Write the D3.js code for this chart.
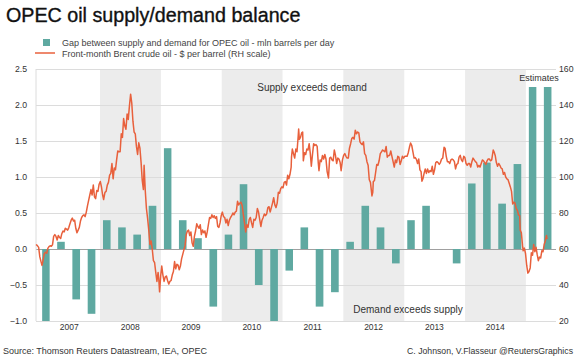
<!DOCTYPE html>
<html>
<head>
<meta charset="utf-8">
<script src="https://cdn.jsdelivr.net/npm/d3@7"></script>
<style>
  body { margin: 0; background: #fff; }
  svg text { font-family: "Liberation Sans", Arial, sans-serif; }
</style>
</head>
<body>
<script>
// quarterly gap between supply and demand for OPEC oil, mln b/d (2007 Q1 .. 2015 Q2)
const quarters = ['2007-01-01','2007-04-01','2007-07-01','2007-10-01',
  '2008-01-01','2008-04-01','2008-07-01','2008-10-01',
  '2009-01-01','2009-04-01','2009-07-01','2009-10-01',
  '2010-01-01','2010-04-01','2010-07-01','2010-10-01',
  '2011-01-01','2011-04-01','2011-07-01','2011-10-01',
  '2012-01-01','2012-04-01','2012-07-01','2012-10-01',
  '2013-01-01','2013-04-01','2013-07-01','2013-10-01',
  '2014-01-01','2014-04-01','2014-07-01','2014-10-01',
  '2015-01-01','2015-04-01']
const gap = [-1.0, 0.1, -0.7, -0.9,
  0.4, 0.3, 0.2, 0.6,
  1.4, 0.4, 0.15, -0.8,
  0.2, 0.9, -0.5, -1.0,
  -0.3, 0.3, -0.8, -0.6,
  0.1, 0.6, 0.3, -0.2,
  0.4, 0.6, 0, -0.2,
  0.91, 1.2, 0.63, 1.18,
  2.25, 2.25]

// front-month Brent, $/bbl
const brent = [
['2006-12-13',62.5],['2006-12-20',62.0],['2006-12-29',60.9],['2007-01-05',55.6],['2007-01-12',53.0],['2007-01-18',50.9],['2007-01-25',54.0],
['2007-02-01',57.5],['2007-02-08',58.2],['2007-02-15',57.6],['2007-02-22',60.3],['2007-03-01',61.3],['2007-03-08',61.8],['2007-03-15',61.5],
['2007-03-22',62.3],['2007-03-29',67.0],['2007-04-05',68.0],['2007-04-12',67.0],['2007-04-19',65.0],['2007-04-26',67.5],['2007-05-03',66.5],
['2007-05-10',65.8],['2007-05-17',68.5],['2007-05-24',70.0],['2007-05-31',69.5],['2007-06-07',71.5],['2007-06-14',71.0],['2007-06-21',70.5],
['2007-06-28',71.9],['2007-07-05',74.0],['2007-07-12',76.0],['2007-07-19',77.2],['2007-07-26',75.5],['2007-08-02',76.0],['2007-08-09',71.5],
['2007-08-16',69.0],['2007-08-23',70.5],['2007-08-30',72.0],['2007-09-06',75.5],['2007-09-13',77.5],['2007-09-20',78.5],['2007-09-27',79.0],
['2007-10-04',78.0],['2007-10-11',80.5],['2007-10-18',84.0],['2007-10-25',87.0],['2007-11-01',90.0],['2007-11-08',93.0],['2007-11-15',90.0],
['2007-11-22',95.5],['2007-11-29',89.0],['2007-12-06',88.0],['2007-12-13',92.5],['2007-12-20',92.0],['2007-12-27',96.0],['2008-01-03',97.5],
['2008-01-10',94.5],['2008-01-17',90.0],['2008-01-23',87.5],['2008-01-31',91.5],['2008-02-07',92.0],['2008-02-14',95.5],['2008-02-21',97.0],
['2008-02-28',101.0],['2008-03-06',102.0],['2008-03-13',107.5],['2008-03-20',99.0],['2008-03-27',105.0],['2008-04-03',104.0],['2008-04-10',109.5],
['2008-04-17',114.5],['2008-04-24',114.0],['2008-05-01',114.0],['2008-05-08',124.0],['2008-05-15',122.0],['2008-05-22',132.5],['2008-05-29',128.5],
['2008-06-05',126.5],['2008-06-12',135.0],['2008-06-19',132.0],['2008-06-26',139.5],['2008-07-03',146.0],['2008-07-10',141.0],['2008-07-17',131.0],
['2008-07-24',125.0],['2008-07-31',124.0],['2008-08-07',117.0],['2008-08-14',112.5],['2008-08-21',119.0],['2008-08-28',116.0],['2008-09-04',108.0],
['2008-09-11',98.0],['2008-09-18',93.0],['2008-09-22',106.5],['2008-09-29',92.5],['2008-10-06',82.5],['2008-10-13',77.0],['2008-10-20',70.5],
['2008-10-27',62.5],['2008-11-03',64.5],['2008-11-10',60.0],['2008-11-17',53.5],['2008-11-24',52.5],['2008-12-01',47.0],['2008-12-08',42.0],
['2008-12-15',47.0],['2008-12-19',43.5],['2008-12-24',36.2],['2008-12-31',45.5],['2009-01-06',50.5],['2009-01-13',45.5],['2009-01-20',42.0],
['2009-01-27',44.5],['2009-02-03',45.0],['2009-02-10',42.5],['2009-02-17',40.5],['2009-02-24',42.0],['2009-03-03',42.5],['2009-03-10',45.5],
['2009-03-17',47.5],['2009-03-24',53.0],['2009-03-31',49.0],['2009-04-07',51.5],['2009-04-14',51.0],['2009-04-21',48.5],['2009-04-28',50.5],
['2009-05-05',54.5],['2009-05-12',57.0],['2009-05-19',59.5],['2009-05-26',62.0],['2009-06-02',68.0],['2009-06-09',70.0],['2009-06-16',70.5],
['2009-06-23',67.5],['2009-06-30',69.5],['2009-07-07',63.5],['2009-07-14',61.5],['2009-07-21',67.0],['2009-07-28',70.0],['2009-08-04',74.0],
['2009-08-11',72.5],['2009-08-18',71.5],['2009-08-25',73.5],['2009-09-01',68.0],['2009-09-08',70.5],['2009-09-15',69.0],['2009-09-22',70.0],
['2009-09-29',66.5],['2009-10-06',69.5],['2009-10-13',73.5],['2009-10-20',77.5],['2009-10-27',77.0],['2009-11-03',79.0],['2009-11-10',77.5],
['2009-11-17',78.5],['2009-11-24',77.0],['2009-12-01',78.0],['2009-12-08',72.5],['2009-12-15',72.0],['2009-12-22',74.5],['2009-12-29',78.5],
['2010-01-05',80.5],['2010-01-12',78.0],['2010-01-19',77.5],['2010-01-26',74.5],['2010-02-02',76.5],['2010-02-09',73.0],['2010-02-16',76.0],
['2010-02-23',77.5],['2010-03-02',78.5],['2010-03-09',80.0],['2010-03-16',79.0],['2010-03-23',80.5],['2010-03-30',81.0],['2010-04-06',86.5],
['2010-04-13',84.5],['2010-04-20',85.5],['2010-04-27',86.0],['2010-05-04',84.0],['2010-05-11',79.0],['2010-05-18',74.5],['2010-05-25',69.5],
['2010-06-01',73.5],['2010-06-08',72.0],['2010-06-15',76.5],['2010-06-22',77.5],['2010-06-29',74.5],['2010-07-06',72.0],['2010-07-13',76.5],
['2010-07-20',76.0],['2010-07-27',77.5],['2010-08-03',82.5],['2010-08-10',80.5],['2010-08-17',76.5],['2010-08-24',72.5],['2010-08-31',76.0],
['2010-09-07',77.5],['2010-09-14',79.5],['2010-09-21',78.5],['2010-09-28',79.5],['2010-10-05',83.0],['2010-10-12',83.5],['2010-10-19',80.5],
['2010-10-26',83.0],['2010-11-02',85.5],['2010-11-09',88.5],['2010-11-16',84.5],['2010-11-23',83.0],['2010-11-30',85.5],['2010-12-07',91.5],
['2010-12-14',91.0],['2010-12-21',93.5],['2010-12-28',94.5],['2011-01-04',94.0],['2011-01-11',97.0],['2011-01-18',97.5],['2011-01-25',95.5],
['2011-02-01',101.0],['2011-02-08',99.0],['2011-02-15',101.5],['2011-02-22',105.5],['2011-02-24',111.0],['2011-03-01',115.5],['2011-03-08',113.0],
['2011-03-15',110.5],['2011-03-22',115.5],['2011-03-29',114.0],['2011-04-05',122.5],['2011-04-08',126.6],['2011-04-12',120.9],['2011-04-19',122.0],
['2011-04-26',124.5],['2011-05-02',125.0],['2011-05-06',109.0],['2011-05-13',113.5],['2011-05-20',112.5],['2011-05-27',115.5],['2011-06-03',115.0],
['2011-06-10',118.5],['2011-06-17',113.0],['2011-06-23',106.0],['2011-06-30',112.5],['2011-07-07',118.5],['2011-07-14',117.5],['2011-07-21',118.0],
['2011-07-28',117.0],['2011-08-04',107.5],['2011-08-08',103.5],['2011-08-15',109.5],['2011-08-22',108.5],['2011-08-29',112.0],['2011-09-05',110.0],
['2011-09-12',112.5],['2011-09-19',110.0],['2011-09-26',103.0],['2011-10-04',99.5],['2011-10-11',110.5],['2011-10-18',111.0],['2011-10-25',109.5],
['2011-11-01',109.0],['2011-11-08',115.0],['2011-11-15',112.0],['2011-11-22',107.5],['2011-11-29',110.5],['2011-12-06',110.0],['2011-12-13',108.0],
['2011-12-19',103.5],['2011-12-27',109.5],['2012-01-03',112.0],['2012-01-10',113.0],['2012-01-17',111.5],['2012-01-24',110.5],['2012-01-31',110.5],
['2012-02-07',116.0],['2012-02-14',118.5],['2012-02-21',121.5],['2012-02-28',122.0],['2012-03-06',121.0],['2012-03-13',126.0],['2012-03-20',124.0],
['2012-03-27',125.0],['2012-04-03',124.5],['2012-04-10',119.5],['2012-04-17',118.5],['2012-04-24',118.0],['2012-05-01',119.5],['2012-05-08',113.0],
['2012-05-15',112.0],['2012-05-22',108.5],['2012-05-29',106.5],['2012-06-05',98.5],['2012-06-12',97.0],['2012-06-21',89.5],['2012-06-26',91.5],
['2012-06-29',97.5],['2012-07-06',98.0],['2012-07-13',102.5],['2012-07-20',107.0],['2012-07-27',106.5],['2012-08-03',109.0],['2012-08-10',113.0],
['2012-08-17',114.0],['2012-08-24',115.0],['2012-08-31',114.5],['2012-09-07',114.0],['2012-09-14',117.0],['2012-09-21',111.0],['2012-09-28',112.0],
['2012-10-05',112.0],['2012-10-12',114.5],['2012-10-19',111.5],['2012-10-26',108.5],['2012-11-02',105.5],['2012-11-09',109.5],['2012-11-16',108.0],
['2012-11-23',111.5],['2012-11-30',111.0],['2012-12-07',107.0],['2012-12-14',109.0],['2012-12-21',111.5],['2012-12-28',110.5],['2013-01-04',111.5],
['2013-01-11',111.5],['2013-01-18',111.5],['2013-01-25',113.5],['2013-02-01',116.5],['2013-02-08',118.9],['2013-02-15',117.5],['2013-02-22',114.0],
['2013-03-01',110.5],['2013-03-08',110.8],['2013-03-15',109.8],['2013-03-22',107.5],['2013-03-29',110.0],['2013-04-05',104.0],['2013-04-12',103.0],
['2013-04-17',97.7],['2013-04-23',99.0],['2013-04-30',102.0],['2013-05-07',104.5],['2013-05-14',102.0],['2013-05-21',104.5],['2013-05-28',102.5],
['2013-06-04',103.5],['2013-06-11',103.0],['2013-06-18',106.0],['2013-06-25',101.5],['2013-07-02',104.0],['2013-07-09',108.0],['2013-07-16',108.5],
['2013-07-23',108.0],['2013-07-30',107.0],['2013-08-06',108.0],['2013-08-13',110.0],['2013-08-20',110.5],['2013-08-28',116.5],['2013-09-03',116.0],
['2013-09-10',111.5],['2013-09-17',108.5],['2013-09-24',108.5],['2013-10-01',107.5],['2013-10-08',109.5],['2013-10-15',110.0],['2013-10-22',109.5],
['2013-10-29',108.5],['2013-11-05',104.5],['2013-11-12',107.0],['2013-11-19',107.5],['2013-11-26',111.0],['2013-12-03',112.0],['2013-12-10',109.5],
['2013-12-17',108.5],['2013-12-24',111.5],['2013-12-31',110.8],['2014-01-07',107.5],['2014-01-14',106.5],['2014-01-21',107.5],['2014-01-28',107.5],
['2014-02-04',105.5],['2014-02-11',108.5],['2014-02-18',110.5],['2014-02-25',109.5],['2014-03-04',108.5],['2014-03-11',108.0],['2014-03-18',105.5],
['2014-03-25',106.5],['2014-04-01',105.5],['2014-04-08',107.5],['2014-04-15',109.5],['2014-04-22',109.0],['2014-04-29',108.0],['2014-05-06',107.0],
['2014-05-13',109.0],['2014-05-20',110.0],['2014-05-27',110.0],['2014-06-03',109.0],['2014-06-10',109.5],['2014-06-19',115.0],['2014-06-24',114.0],
['2014-07-01',112.0],['2014-07-08',108.0],['2014-07-15',106.0],['2014-07-22',107.5],['2014-07-29',106.5],['2014-08-05',105.0],['2014-08-12',104.5],
['2014-08-19',101.5],['2014-08-26',102.5],['2014-09-02',100.0],['2014-09-09',99.0],['2014-09-16',98.5],['2014-09-23',96.5],['2014-09-30',94.5],
['2014-10-07',92.0],['2014-10-14',85.0],['2014-10-21',86.0],['2014-10-28',85.5],['2014-11-04',82.5],['2014-11-11',81.5],['2014-11-18',79.0],
['2014-11-25',78.5],['2014-11-28',70.5],['2014-12-05',69.0],['2014-12-12',62.0],['2014-12-16',59.0],['2014-12-23',60.5],['2014-12-30',57.5],
['2015-01-06',51.0],['2015-01-13',46.6],['2015-01-20',47.5],['2015-01-27',49.5],['2015-02-03',57.9],['2015-02-10',56.5],['2015-02-17',62.5],
['2015-02-24',58.5],['2015-03-03',61.0],['2015-03-10',57.0],['2015-03-17',53.5],['2015-03-24',55.5],['2015-03-31',55.0],['2015-04-07',59.0],
['2015-04-14',58.5],['2015-04-21',62.5],['2015-04-28',64.5],['2015-05-05',67.5],['2015-05-08',65.5]
]

const years = [2007, 2008, 2009, 2010, 2011, 2012, 2013, 2014]
const shadedYears = [2008, 2010, 2012, 2014]
const leftTicks = [-1.0, -0.5, 0.0, 0.5, 1.0, 1.5, 2.0, 2.5]
const rightTicks = [20, 40, 60, 80, 100, 120, 140, 160]

const w = 586
const h = 359
const plotLeft = 36, plotRight = 556, plotTop = 69, plotBottom = 321
const parse = d3.timeParse('%Y-%m-%d')

const svg = d3.select('body').append('svg')
  .attr('width', w)
  .attr('height', h)

const xScale = d3.scaleTime()
  .domain([parse('2006-12-13'), parse('2015-07-01')])
  .range([plotLeft, plotRight])
const yScale = d3.scaleLinear().domain([-1, 2.5]).range([plotBottom, plotTop])
const y2Scale = d3.scaleLinear().domain([20, 160]).range([plotBottom, plotTop])

// shaded years
svg.selectAll('rect.band')
  .data(shadedYears)
  .enter()
  .append('rect')
  .attr('class', 'band')
  .attr('x', d => xScale(new Date(d, 0, 1)))
  .attr('width', d => xScale(new Date(d + 1, 0, 1)) - xScale(new Date(d, 0, 1)))
  .attr('y', plotTop)
  .attr('height', plotBottom - plotTop)
  .attr('fill', '#ececec')

// gridlines + left axis
const yAxis = svg.append('g')
  .attr('transform', `translate(${plotLeft},0)`)
  .call(d3.axisLeft(yScale).tickValues(leftTicks).tickFormat(d3.format('.1f')).tickSize(-(plotRight - plotLeft)).tickPadding(9))
yAxis.select('.domain').remove()
yAxis.selectAll('line').attr('stroke', d => d === 0 ? '#a0a0a0' : '#dcdcdc')
yAxis.selectAll('text').attr('fill', '#333').attr('font-size', '8.7px')

svg.append('line')
  .attr('x1', plotLeft).attr('x2', plotLeft)
  .attr('y1', plotTop).attr('y2', plotBottom)
  .attr('stroke', '#dcdcdc')

const y2Axis = svg.append('g')
  .attr('transform', `translate(${plotRight},0)`)
  .call(d3.axisRight(y2Scale).tickValues(rightTicks).tickSize(0).tickPadding(3))
y2Axis.select('.domain').remove()
y2Axis.selectAll('text').attr('fill', '#333').attr('font-size', '8.7px')

// year labels
svg.selectAll('text.year')
  .data(years)
  .enter()
  .append('text')
  .attr('class', 'year')
  .attr('x', d => xScale(new Date(d, 6, 1)))
  .attr('y', 330)
  .attr('text-anchor', 'middle')
  .attr('font-size', '8.5px')
  .attr('fill', '#333')
  .text(d => d)

// bars
const qStart = quarters.map(parse)
svg.selectAll('rect.bar')
  .data(gap)
  .enter()
  .append('rect')
  .attr('class', 'bar')
  .attr('fill', '#5fa9a1')
  .attr('x', (d, i) => {
    const q0 = xScale(qStart[i]), q1 = xScale(d3.timeMonth.offset(qStart[i], 3))
    return q0 + (q1 - q0) * 0.2
  })
  .attr('width', (d, i) => (xScale(d3.timeMonth.offset(qStart[i], 3)) - xScale(qStart[i])) * 0.5)
  .attr('y', d => yScale(Math.max(0, d)))
  .attr('height', d => Math.abs(yScale(d) - yScale(0)))

// Brent line
const line = d3.line()
  .x(d => xScale(parse(d[0])))
  .y(d => y2Scale(d[1]))
svg.append('path')
  .datum(brent)
  .attr('d', line)
  .attr('fill', 'none')
  .attr('stroke', '#e8603c')
  .attr('stroke-width', 1.5)
  .attr('stroke-linejoin', 'round')

// annotations
const note = (x, y, t) => svg.append('text')
  .attr('x', x).attr('y', y)
  .attr('text-anchor', 'middle')
  .attr('font-size', '10px')
  .attr('fill', '#333')
  .text(t)
note(312, 91, 'Supply exceeds demand')
note(408, 313, 'Demand exceeds supply')
note(539, 81, 'Estimates').attr('font-size', '9px')

// title + legend
svg.append('text')
  .attr('x', 6).attr('y', 22)
  .attr('font-size', '19.7px')
  .attr('fill', '#111')
  .attr('stroke', '#111')
  .attr('stroke-width', 0.35)
  .text('OPEC oil supply/demand balance')

svg.append('rect')
  .attr('x', 43).attr('y', 39)
  .attr('width', 7).attr('height', 7)
  .attr('fill', '#5fa9a1')
svg.append('text')
  .attr('x', 62).attr('y', 46)
  .attr('font-size', '9px')
  .attr('fill', '#444')
  .text('Gap between supply and demand for OPEC oil - mln barrels per day')
svg.append('line')
  .attr('x1', 35).attr('x2', 55)
  .attr('y1', 53).attr('y2', 53)
  .attr('stroke', '#e8603c')
  .attr('stroke-width', 1.5)
svg.append('text')
  .attr('x', 62).attr('y', 57)
  .attr('font-size', '9px')
  .attr('fill', '#444')
  .text('Front-month Brent crude oil - $ per barrel (RH scale)')

// footer
svg.append('text')
  .attr('x', 3).attr('y', 354)
  .attr('font-size', '9px')
  .attr('fill', '#333')
  .text('Source: Thomson Reuters Datastream, IEA, OPEC')
svg.append('text')
  .attr('x', 573).attr('y', 354)
  .attr('text-anchor', 'end')
  .attr('font-size', '8.7px')
  .attr('fill', '#333')
  .text('C. Johnson, V.Flasseur @ReutersGraphics')
</script>
</body>
</html>
